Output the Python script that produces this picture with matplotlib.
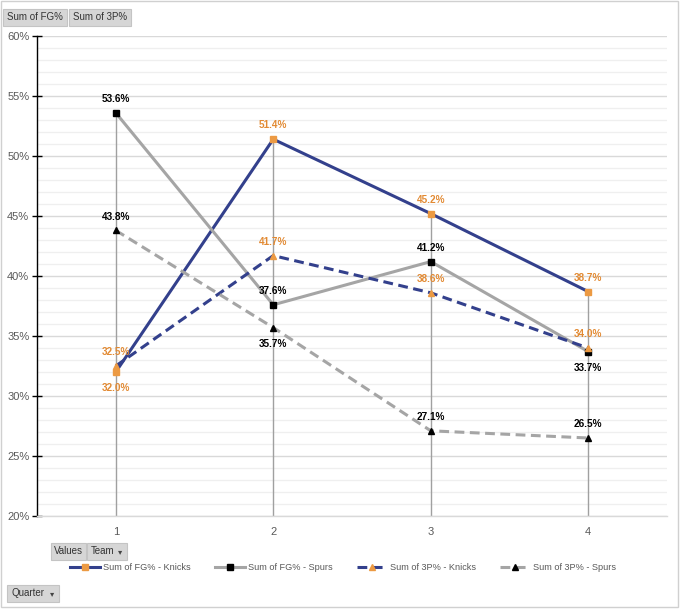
import matplotlib
matplotlib.use("Agg")
import matplotlib.pyplot as plt
from matplotlib.patches import Rectangle
from matplotlib.ticker import MultipleLocator, FuncFormatter

plt.rcParams['font.family'] = ['Liberation Sans', 'DejaVu Sans']

quarters = [1, 2, 3, 4]
fg_knicks = [32.0, 51.4, 45.2, 38.7]
fg_spurs = [53.6, 37.6, 41.2, 33.7]
p3_knicks = [32.5, 41.7, 38.6, 34.0]
p3_spurs = [43.8, 35.7, 27.1, 26.5]

labels = ["Sum of FG% - Knicks", "Sum of FG% - Spurs",
          "Sum of 3P% - Knicks", "Sum of 3P% - Spurs"]
# label placement: 1 = above, -1 = below
pos_fg_knicks = [-1, 1, 1, 1]
pos_fg_spurs = [1, 1, 1, -1]
pos_p3_knicks = [1, 1, 1, 1]
pos_p3_spurs = [1, -1, 1, 1]

NAVY = '#33408C'
GRAY = '#A5A5A5'
ORANGE = '#EC9A43'
ORANGE_TXT = '#E28A33'

W, H = 680, 609
fig = plt.figure(figsize=(W / 100, H / 100), dpi=100)

def fx(px):
    return px / W

def fy(py):
    return 1 - py / H

ax = fig.add_axes([fx(37), fy(516), (667 - 37) / W, (516 - 36) / H])
ax.set_xlim(0.5, 4.5)
ax.set_ylim(20, 60)

ax.yaxis.set_major_locator(MultipleLocator(5))
ax.yaxis.set_minor_locator(MultipleLocator(1))
ax.yaxis.set_major_formatter(FuncFormatter(lambda v, p: f"{v:.0f}%"))
ax.grid(which='major', axis='y', color='#D9D9D9', lw=1.0, zorder=0)
ax.grid(which='minor', axis='y', color='#EFEFEF', lw=0.9, zorder=0)
ax.set_axisbelow(True)

for s in ['top', 'right']:
    ax.spines[s].set_visible(False)
ax.spines['left'].set_color('black')
ax.spines['left'].set_linewidth(1.0)
ax.spines['bottom'].set_color('#D9D9D9')
ax.spines['bottom'].set_linewidth(1.0)

ax.tick_params(axis='y', which='major', direction='inout', length=7, width=1.0,
               color='black', labelsize=8, labelcolor='#595959', pad=2)
ax.tick_params(axis='y', which='minor', length=0)
ax.set_xticks(quarters)
ax.tick_params(axis='x', length=0, labelsize=8, labelcolor='#595959', pad=8)

# drop lines
tops = [max(a, b, c, d) for a, b, c, d in zip(fg_knicks, fg_spurs, p3_knicks, p3_spurs)]
ax.vlines(quarters, 20, tops, color='#A0A0A0', lw=1.0, zorder=2)

series = [
    (fg_knicks, NAVY, '-', 's', ORANGE, ORANGE_TXT, pos_fg_knicks, 4.5),
    (fg_spurs, GRAY, '-', 's', 'black', 'black', pos_fg_spurs, 4.5),
    (p3_knicks, NAVY, '--', '^', ORANGE, ORANGE_TXT, pos_p3_knicks, 5),
    (p3_spurs, GRAY, '--', '^', 'black', 'black', pos_p3_spurs, 5),
]
handles = []
for i, (vals, lc, ls, mk, mc, tc, poss, ms) in enumerate(series):
    kw = {}
    if ls == '--':
        kw['dashes'] = (3.2, 1.8)
    ln, = ax.plot(quarters, vals, color=lc, lw=2.2, marker=mk, ms=ms,
                  markerfacecolor=mc, markeredgecolor=mc, zorder=3 + i,
                  label=labels[i], **kw)
    handles.append(ln)
    for x, v, p in zip(quarters, vals, poss):
        off = 10 if p > 0 else -11.5
        ax.annotate(f"{v:.1f}%", (x, v), xytext=(0, off), textcoords='offset points',
                    ha='center', va='center', fontsize=7.2, fontweight='bold',
                    color=tc, zorder=10)

fig.legend(handles=handles, labels=labels, loc='center', bbox_to_anchor=(fx(343), fy(568)),
           ncol=4, frameon=False, fontsize=6.6, labelcolor='#595959',
           handlelength=3.3, handletextpad=0.35, columnspacing=2.6)

# outer border
fig.patches.append(Rectangle((fx(1), fy(607)), fx(677), (606) / H, transform=fig.transFigure,
                             facecolor='none', edgecolor='#D0D0D0', lw=1.0))

def button(x0, y0, x1, y1, text, arrow=False):
    fig.patches.append(Rectangle((fx(x0), fy(y1)), fx(x1 - x0), (y1 - y0) / H,
                                 transform=fig.transFigure, facecolor='#D6D6D6',
                                 edgecolor='#C4C4C4', lw=0.8))
    if arrow:
        fig.text(fx(x0 + 4), fy((y0 + y1) / 2), text, ha='left', va='center',
                 fontsize=7, color='#333333')
        fig.text(fx(x1 - 7), fy((y0 + y1) / 2), '▾', ha='center', va='center',
                 fontsize=6, color='#444444', family=['DejaVu Sans'])
    else:
        fig.text(fx((x0 + x1) / 2), fy((y0 + y1) / 2), text, ha='center', va='center',
                 fontsize=7, color='#333333')

button(3, 9, 67, 26, "Sum of FG%")
button(69, 9, 131, 26, "Sum of 3P%")
button(51, 543, 86, 560, "Values")
button(87, 543, 127, 560, "Team", arrow=True)
button(7, 585, 59, 602, "Quarter", arrow=True)

fig.savefig("out.png", dpi=100)
